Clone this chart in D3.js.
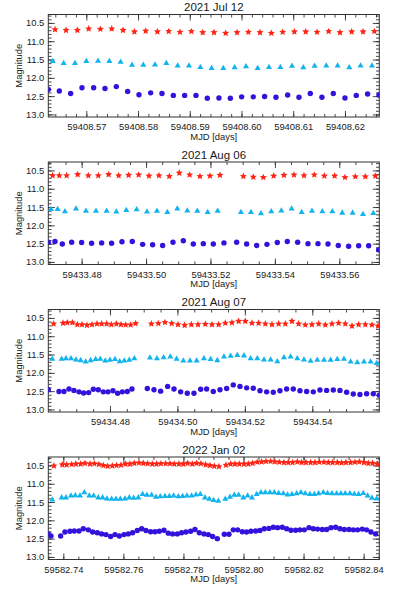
<!DOCTYPE html>
<html><head><meta charset="utf-8">
<script src="https://cdn.jsdelivr.net/npm/d3@7"></script>
<style>
body{margin:0;background:#fff}
svg{display:block}
text{font-family:"Liberation Sans",Arial,Helvetica,sans-serif;fill:#1a1a1a}
</style>
</head><body><svg id="c" width="393" height="591"></svg>
<script>
// ---------------- DATA (times are MJD minus the panel's integer base) ----------------
const titles = ["2021 Jul 12", "2021 Aug 06", "2021 Aug 07", "2022 Jan 02"];
const bases = [59408, 59433, 59434, 59582];
const xRanges = [[0.56265, 0.62664], [0.46965, 0.57242], [0.46171, 0.55987], [0.73500, 0.84522]];
const xTicks1 = [0.57, 0.58, 0.59, 0.60, 0.61, 0.62];
const xTicks2 = [0.48, 0.50, 0.52, 0.54, 0.56];
const xTicks3 = [0.48, 0.50, 0.52, 0.54];
const xTicks4 = [0.74, 0.76, 0.78, 0.80, 0.82, 0.84];
const xMinorSteps = [0.002, 0.005, 0.005, 0.005];
const yTicks = [10.5, 11.0, 11.5, 12.0, 12.5, 13.0];
const yRange = [10.27, 13.07];

// Panel 1 - 2021 Jul 12
const p1_tB = [0.56265,0.56478,0.56697,0.56916,0.57142,0.57361,0.57580,0.57799,0.58018,0.58244,0.58463,0.58682,0.58901,0.59120,0.59339,0.59564,0.59784,0.60003,0.60228,0.60447,0.60666,0.60892,0.61111,0.61330,0.61555,0.61774,0.62000,0.62219,0.62438,0.62657];
const p1_B  = [12.32,12.36,12.43,12.27,12.27,12.29,12.24,12.37,12.46,12.41,12.43,12.48,12.48,12.48,12.56,12.55,12.56,12.52,12.52,12.51,12.53,12.47,12.53,12.43,12.53,12.43,12.55,12.48,12.44,12.47];
const p1_tV = [0.56349,0.56562,0.56781,0.57000,0.57226,0.57445,0.57664,0.57883,0.58102,0.58328,0.58547,0.58766,0.58985,0.59204,0.59423,0.59648,0.59868,0.60087,0.60312,0.60531,0.60750,0.60976,0.61195,0.61414,0.61639,0.61858,0.62084,0.62303,0.62522];
const p1_V  = [11.55,11.60,11.60,11.55,11.54,11.55,11.57,11.65,11.65,11.64,11.60,11.67,11.67,11.71,11.74,11.74,11.72,11.69,11.74,11.71,11.71,11.68,11.72,11.68,11.67,11.67,11.72,11.67,11.67];
const p1_tR = [0.56395,0.56608,0.56827,0.57046,0.57272,0.57491,0.57710,0.57929,0.58148,0.58374,0.58593,0.58812,0.59031,0.59250,0.59469,0.59694,0.59914,0.60133,0.60358,0.60577,0.60796,0.61022,0.61241,0.61460,0.61685,0.61904,0.62130,0.62349,0.62568];
const p1_R  = [10.68,10.70,10.70,10.66,10.67,10.66,10.70,10.74,10.72,10.74,10.73,10.75,10.73,10.76,10.76,10.78,10.76,10.75,10.76,10.78,10.75,10.74,10.74,10.75,10.73,10.76,10.74,10.74,10.73];

// Panel 2 - 2021 Aug 06
const p2_tB = [0.46965,0.47172,0.47400,0.47690,0.48000,0.48310,0.48621,0.48931,0.49252,0.49573,0.49894,0.50204,0.50515,0.50836,0.51157,0.51467,0.51778,0.52088,0.52419,0.52813,0.53123,0.53434,0.53754,0.54075,0.54386,0.54707,0.55028,0.55338,0.55649,0.55969,0.56290,0.56601,0.56911,0.57222];
const p2_B  = [12.46,12.44,12.51,12.46,12.47,12.49,12.48,12.49,12.45,12.44,12.52,12.53,12.55,12.46,12.42,12.51,12.50,12.51,12.48,12.46,12.51,12.55,12.52,12.47,12.44,12.46,12.50,12.50,12.51,12.55,12.57,12.56,12.56,12.67];
const p2_tV = [0.47048,0.47255,0.47483,0.47824,0.48135,0.48445,0.48776,0.49076,0.49387,0.49708,0.50029,0.50339,0.50660,0.50970,0.51281,0.51591,0.51912,0.52223,0.52947,0.53258,0.53568,0.53889,0.54200,0.54520,0.54831,0.55152,0.55473,0.55783,0.56093,0.56414,0.56735,0.57056];
const p2_V  = [11.56,11.56,11.62,11.55,11.61,11.61,11.61,11.63,11.59,11.57,11.63,11.61,11.64,11.55,11.60,11.61,11.64,11.61,11.64,11.64,11.68,11.62,11.60,11.55,11.64,11.61,11.62,11.62,11.66,11.66,11.70,11.67];
const p2_tR = [0.47100,0.47307,0.47534,0.47876,0.48207,0.48517,0.48838,0.49149,0.49459,0.49770,0.50091,0.50401,0.50722,0.51033,0.51353,0.51674,0.51985,0.52295,0.53020,0.53330,0.53641,0.53962,0.54282,0.54593,0.54903,0.55224,0.55535,0.55855,0.56176,0.56497,0.56808,0.57118];
const p2_R  = [10.64,10.64,10.64,10.61,10.64,10.64,10.61,10.64,10.63,10.62,10.65,10.64,10.66,10.57,10.62,10.66,10.65,10.63,10.66,10.68,10.69,10.65,10.63,10.62,10.64,10.62,10.65,10.65,10.69,10.67,10.67,10.65];

// Panel 3 - 2021 Aug 07
const p3_tB = [0.46171,0.46488,0.46636,0.46784,0.46932,0.47081,0.47219,0.47367,0.47506,0.47654,0.47802,0.47941,0.48089,0.48227,0.48366,0.48514,0.48652,
  0.49107,0.49305,0.49502,0.49710,0.49898,0.50096,0.50293,0.50491,0.50689,0.50866,0.51064,0.51262,0.51460,0.51657,0.51855,0.52053,0.52250,0.52448,0.52646,0.52843,0.53041,0.53239,0.53436,0.53634,0.53832,0.54030,0.54227,0.54425,0.54623,0.54820,0.55018,0.55216,0.55413,0.55611,0.55809,0.55987];
const p3_B  = [12.46,12.51,12.51,12.44,12.48,12.52,12.55,12.54,12.45,12.46,12.52,12.52,12.49,12.56,12.52,12.51,12.44,
  12.43,12.46,12.50,12.37,12.44,12.52,12.56,12.56,12.45,12.44,12.51,12.46,12.43,12.33,12.37,12.41,12.42,12.49,12.52,12.53,12.49,12.44,12.44,12.49,12.51,12.52,12.47,12.48,12.47,12.48,12.53,12.58,12.59,12.57,12.57,12.61];
const p3_tV = [0.46290,0.46567,0.46695,0.46844,0.46992,0.47130,0.47278,0.47427,0.47575,0.47713,0.47862,0.48000,0.48148,0.48287,0.48425,0.48573,0.48722,
  0.49186,0.49394,0.49591,0.49789,0.49977,0.50175,0.50372,0.50570,0.50787,0.50985,0.51183,0.51380,0.51578,0.51776,0.51974,0.52171,0.52369,0.52567,0.52764,0.52962,0.53160,0.53357,0.53555,0.53753,0.53950,0.54148,0.54346,0.54543,0.54741,0.54939,0.55137,0.55334,0.55532,0.55730,0.55908];
const p3_V  = [11.62,11.62,11.61,11.61,11.64,11.66,11.70,11.66,11.63,11.62,11.67,11.65,11.63,11.69,11.67,11.65,11.61,
  11.59,11.61,11.58,11.56,11.62,11.67,11.67,11.67,11.61,11.63,11.66,11.56,11.54,11.52,11.53,11.61,11.61,11.64,11.64,11.69,11.58,11.56,11.61,11.64,11.68,11.65,11.65,11.65,11.63,11.62,11.70,11.72,11.70,11.70,11.74];
const p3_tR = [0.46330,0.46607,0.46735,0.46884,0.47032,0.47170,0.47318,0.47467,0.47615,0.47753,0.47902,0.48040,0.48188,0.48327,0.48465,0.48613,0.48762,
  0.49226,0.49434,0.49631,0.49829,0.50017,0.50215,0.50412,0.50610,0.50827,0.51025,0.51223,0.51420,0.51618,0.51816,0.52014,0.52211,0.52409,0.52607,0.52804,0.53002,0.53200,0.53397,0.53595,0.53793,0.53990,0.54188,0.54386,0.54583,0.54781,0.54979,0.55177,0.55374,0.55572,0.55770,0.55948];
const p3_R  = [10.66,10.64,10.63,10.63,10.68,10.68,10.70,10.68,10.66,10.66,10.66,10.68,10.66,10.68,10.69,10.69,10.65,
  10.66,10.65,10.62,10.65,10.68,10.70,10.68,10.68,10.67,10.68,10.68,10.64,10.63,10.59,10.59,10.64,10.64,10.66,10.68,10.66,10.66,10.59,10.66,10.69,10.68,10.66,10.69,10.66,10.64,10.66,10.72,10.68,10.68,10.69,10.72];

// Panel 4 - 2022 Jan 02
const p4_tB = [0.73500,0.73589,0.73911,0.74055,0.74222,0.74366,0.74522,0.74666,0.74832,0.74977,0.75132,0.75276,0.75421,0.75576,0.75720,0.75865,0.76020,0.76164,0.76309,0.76464,0.76608,0.76752,0.76908,0.77052,0.77196,0.77352,0.77496,0.77640,0.77796,0.77940,0.78084,0.78240,0.78384,0.78528,0.78684,0.78828,0.78972,0.79128,
  0.79361,0.79516,0.79660,0.79805,0.79960,0.80104,0.80249,0.80404,0.80548,0.80693,0.80848,0.80992,0.81136,0.81292,0.81436,0.81580,0.81736,0.81880,0.82024,0.82180,0.82324,0.82468,0.82624,0.82768,0.82912,0.83068,0.83212,0.83356,0.83512,0.83656,0.83800,0.83956,0.84100,0.84244,0.84400];
const p4_B  = [12.37,12.43,12.43,12.32,12.30,12.29,12.29,12.23,12.26,12.32,12.34,12.37,12.39,12.44,12.39,12.43,12.39,12.37,12.34,12.28,12.23,12.28,12.31,12.31,12.30,12.27,12.35,12.37,12.37,12.34,12.32,12.30,12.25,12.34,12.37,12.39,12.44,12.50,
  12.38,12.38,12.26,12.26,12.31,12.32,12.30,12.29,12.28,12.23,12.22,12.19,12.20,12.19,12.23,12.27,12.27,12.26,12.26,12.20,12.23,12.24,12.25,12.25,12.20,12.19,12.23,12.25,12.25,12.26,12.26,12.24,12.26,12.32,12.37];
const p4_tV = [0.73634,0.73944,0.74088,0.74255,0.74399,0.74555,0.74699,0.74865,0.75010,0.75165,0.75309,0.75454,0.75609,0.75753,0.75898,0.76053,0.76197,0.76342,0.76497,0.76641,0.76785,0.76941,0.77085,0.77229,0.77385,0.77529,0.77673,0.77829,0.77973,0.78117,0.78273,0.78417,0.78561,0.78717,0.78861,0.79005,0.79161,
  0.79394,0.79549,0.79693,0.79838,0.79993,0.80137,0.80282,0.80437,0.80581,0.80726,0.80881,0.81025,0.81169,0.81325,0.81469,0.81613,0.81769,0.81913,0.82057,0.82213,0.82357,0.82501,0.82657,0.82801,0.82945,0.83101,0.83245,0.83389,0.83545,0.83689,0.83833,0.83989,0.84133,0.84277,0.84433];
const p4_V  = [11.44,11.38,11.38,11.33,11.32,11.33,11.24,11.33,11.33,11.38,11.38,11.41,11.42,11.42,11.42,11.41,11.38,11.39,11.38,11.29,11.31,11.31,11.36,11.35,11.34,11.34,11.33,11.35,11.34,11.33,11.33,11.30,11.29,11.38,11.42,11.45,11.47,
  11.42,11.36,11.31,11.31,11.38,11.33,11.38,11.29,11.24,11.24,11.24,11.24,11.26,11.27,11.30,11.29,11.27,11.24,11.27,11.29,11.29,11.27,11.24,11.26,11.27,11.27,11.27,11.27,11.27,11.28,11.29,11.26,11.33,11.39,11.41];
const p4_tR = [0.73689,0.73966,0.74110,0.74277,0.74421,0.74577,0.74721,0.74887,0.75032,0.75187,0.75331,0.75476,0.75631,0.75775,0.75920,0.76075,0.76219,0.76364,0.76519,0.76663,0.76807,0.76963,0.77107,0.77251,0.77407,0.77551,0.77695,0.77851,0.77995,0.78139,0.78295,0.78439,0.78583,0.78739,0.78883,0.79027,0.79183,
  0.79416,0.79571,0.79715,0.79860,0.80015,0.80159,0.80304,0.80459,0.80603,0.80748,0.80903,0.81047,0.81191,0.81347,0.81491,0.81635,0.81791,0.81935,0.82079,0.82235,0.82379,0.82523,0.82679,0.82823,0.82967,0.83123,0.83267,0.83411,0.83567,0.83711,0.83855,0.84011,0.84155,0.84299,0.84455];
const p4_R  = [10.51,10.48,10.48,10.47,10.46,10.46,10.44,10.46,10.45,10.47,10.50,10.52,10.51,10.50,10.49,10.46,10.46,10.44,10.43,10.44,10.45,10.46,10.46,10.45,10.45,10.45,10.46,10.46,10.46,10.44,10.46,10.44,10.45,10.48,10.50,10.52,10.53,
  10.49,10.46,10.46,10.46,10.46,10.46,10.44,10.41,10.40,10.39,10.39,10.40,10.41,10.42,10.42,10.42,10.40,10.42,10.42,10.42,10.42,10.41,10.41,10.42,10.42,10.42,10.43,10.42,10.42,10.41,10.40,10.42,10.44,10.44,10.46];

// ---------------- LAYOUT / STYLE ----------------
const panels = [
  {tB:p1_tB,B:p1_B,tV:p1_tV,V:p1_V,tR:p1_tR,R:p1_R,ticks:xTicks1},
  {tB:p2_tB,B:p2_B,tV:p2_tV,V:p2_V,tR:p2_tR,R:p2_R,ticks:xTicks2},
  {tB:p3_tB,B:p3_B,tV:p3_tV,V:p3_V,tR:p3_tR,R:p3_R,ticks:xTicks3},
  {tB:p4_tB,B:p4_B,tV:p4_tV,V:p4_V,tR:p4_tR,R:p4_R,ticks:xTicks4}
];
const L = 48.3, Rr = 379.3, PH = 102.5;
const tops = [14.5, 162, 309.5, 457];
const colB = "#3412dc", colV = "#12b4ee", colR = "#ff2414";
const frameCol = "#333";
const fsTick = 9.4, fsLab = 9.4, fsTitle = 11.5;

// five-pointed star with a fuller body (IDL-like)
const fatStar = {
  draw(ctx, size) {
    const ro = Math.sqrt(size) * 0.95, ri = ro * 0.46;
    for (let k = 0; k < 10; k++) {
      const r = k % 2 ? ri : ro;
      const a = -Math.PI / 2 + k * Math.PI / 5;
      const px = r * Math.cos(a), py = r * Math.sin(a);
      k ? ctx.lineTo(px, py) : ctx.moveTo(px, py);
    }
    ctx.closePath();
  }
};

const svg = d3.select("#c");
const defs = svg.append("defs");

panels.forEach((p, i) => {
  const top = tops[i], bot = top + PH;
  const x = d3.scaleLinear().domain(xRanges[i]).range([L, Rr]);
  const y = d3.scaleLinear().domain(yRange).range([top, bot]);
  const g = svg.append("g");

  defs.append("clipPath").attr("id", "clip" + i)
    .append("rect").attr("x", L).attr("y", top).attr("width", Rr - L).attr("height", PH);

  const st = xMinorSteps[i];
  const d0 = xRanges[i][0], d1 = xRanges[i][1];
  const xMinor = d3.range(Math.ceil(d0 / st - 1e-6), Math.floor(d1 / st + 1e-6) + 1).map(k => +(k * st).toFixed(6));
  const yMinor = d3.range(Math.ceil(yRange[0] * 10 - 1e-6), Math.floor(yRange[1] * 10 + 1e-6) + 1).map(k => k / 10);

  const fmtX = v => d3.format(".2f")(bases[i] + v);
  const fmtY = d3.format(".1f");

  function styleAxis(sel) {
    sel.select(".domain").remove();
    sel.selectAll(".tick line").attr("stroke", frameCol).attr("stroke-width", 0.9);
    sel.selectAll(".tick text").attr("font-family", '"Liberation Sans",Arial,sans-serif').attr("fill", "#1a1a1a");
  }

  g.append("g").attr("transform", `translate(0,${bot})`)
    .call(d3.axisBottom(x).tickValues(p.ticks).tickFormat(fmtX).tickSize(-6).tickPadding(6.4))
    .call(styleAxis).attr("font-size", fsTick);
  g.append("g").attr("transform", `translate(0,${bot})`)
    .call(d3.axisBottom(x).tickValues(xMinor).tickFormat("").tickSize(-3)).call(styleAxis);
  g.append("g").attr("transform", `translate(0,${top})`)
    .call(d3.axisTop(x).tickValues(p.ticks).tickFormat("").tickSize(-6)).call(styleAxis);
  g.append("g").attr("transform", `translate(0,${top})`)
    .call(d3.axisTop(x).tickValues(xMinor).tickFormat("").tickSize(-3)).call(styleAxis);
  g.append("g").attr("transform", `translate(${L},0)`)
    .call(d3.axisLeft(y).tickValues(yTicks).tickFormat(fmtY).tickSize(-6.5).tickPadding(4))
    .call(styleAxis).attr("font-size", fsTick);
  g.append("g").attr("transform", `translate(${L},0)`)
    .call(d3.axisLeft(y).tickValues(yMinor).tickFormat("").tickSize(-3.3)).call(styleAxis);
  g.append("g").attr("transform", `translate(${Rr},0)`)
    .call(d3.axisRight(y).tickValues(yTicks).tickFormat("").tickSize(-6.5)).call(styleAxis);
  g.append("g").attr("transform", `translate(${Rr},0)`)
    .call(d3.axisRight(y).tickValues(yMinor).tickFormat("").tickSize(-3.3)).call(styleAxis);

  g.append("rect").attr("x", L).attr("y", top).attr("width", Rr - L).attr("height", PH)
    .attr("fill", "none").attr("stroke", frameCol).attr("stroke-width", 1);

  const dg = g.append("g").attr("clip-path", `url(#clip${i})`);
  const series = [
    {t: p.tB, m: p.B, type: d3.symbolCircle, size: 23, col: colB},
    {t: p.tV, m: p.V, type: d3.symbolTriangle, size: 16, col: colV},
    {t: p.tR, m: p.R, type: fatStar, size: 15, col: colR}
  ];
  series.forEach(s => {
    const sym = d3.symbol().type(s.type).size(s.size);
    dg.selectAll(null).data(d3.zip(s.t, s.m)).join("path")
      .attr("d", sym)
      .attr("transform", d => `translate(${x(d[0])},${y(d[1])})`)
      .attr("fill", s.col);
  });

  g.append("text").attr("x", (L + Rr) / 2).attr("y", top - 3.2)
    .attr("text-anchor", "middle").attr("font-size", fsTitle).text(titles[i]);
  g.append("text").attr("x", (L + Rr) / 2).attr("y", bot + 22.6)
    .attr("text-anchor", "middle").attr("font-size", fsLab).text("MJD [days]");
  g.append("text").attr("transform", `translate(${21.5},${(top + bot) / 2}) rotate(-90)`)
    .attr("text-anchor", "middle").attr("font-size", fsLab).text("Magnitude");
});
</script>
</body></html>
